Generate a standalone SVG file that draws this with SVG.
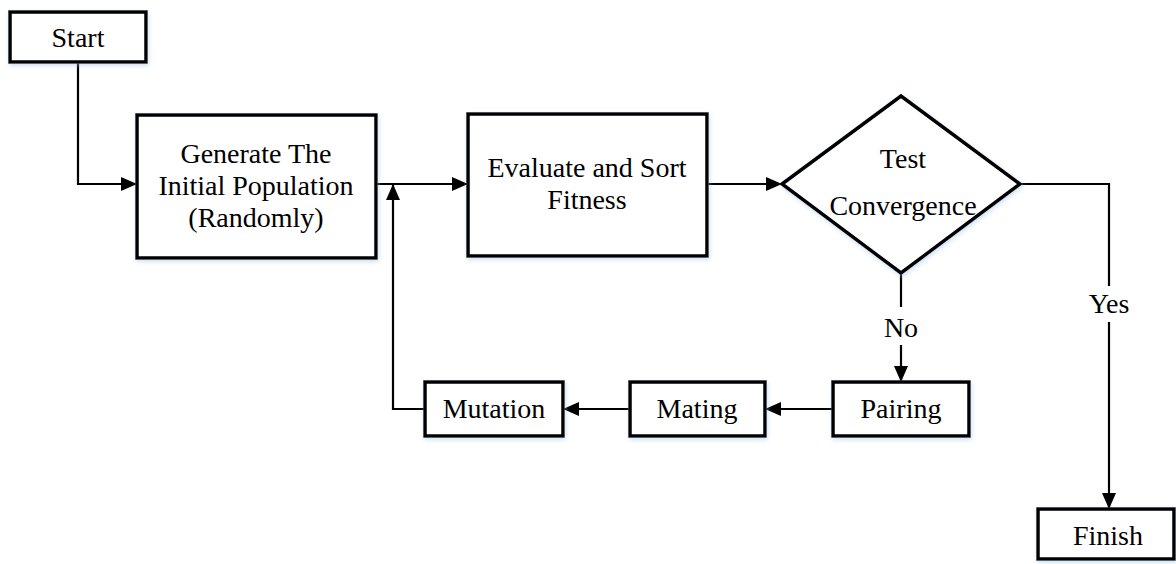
<svg xmlns="http://www.w3.org/2000/svg" width="1176" height="564" viewBox="0 0 1176 564">
<style>
.box{fill:#fff;stroke:#000;stroke-width:3.5;filter:url(#sh)}
.t{font-family:"Liberation Serif","Times New Roman",serif;font-size:28px;fill:#000;text-anchor:middle}
.c{fill:none;stroke:#000;stroke-width:2.2}
</style>
<defs>
<filter id="sh" x="-10%" y="-10%" width="120%" height="130%">
<feDropShadow dx="1" dy="2" stdDeviation="2" flood-color="#9dc3e6" flood-opacity="0.5"/>
</filter>
<marker id="ah" viewBox="0 0 16 14" refX="16" refY="7" markerWidth="16" markerHeight="14" markerUnits="userSpaceOnUse" orient="auto">
<path d="M0,0 L16,7 L0,14 Z" fill="#000"/>
</marker>
</defs>
<rect width="1176" height="564" fill="#fff"/>
<g id="connectors">
<path class="c" d="M78,62 V184 H137" marker-end="url(#ah)"/>
<path class="c" d="M376,184 H468" marker-end="url(#ah)"/>
<path class="c" d="M425,409 H393 V184" marker-end="url(#ah)"/>
<path class="c" d="M707,184 H782" marker-end="url(#ah)"/>
<path class="c" d="M1020,184 H1109 V286"/>
<path class="c" d="M1109,322 V509" marker-end="url(#ah)"/>
<path class="c" d="M901,273 V307"/>
<path class="c" d="M901,345 V382" marker-end="url(#ah)"/>
<path class="c" d="M833,409 H765" marker-end="url(#ah)"/>
<path class="c" d="M630,409 H563" marker-end="url(#ah)"/>
<text class="t" x="1109" y="313">Yes</text>
<text class="t" x="901" y="337">No</text>
</g>
<g id="start">
<rect class="box" x="10" y="12" width="136" height="50"/>
<text class="t" x="78" y="47">Start</text>
</g>
<g id="generate">
<rect class="box" x="137" y="115" width="239" height="143"/>
<text class="t" x="256" y="163">Generate The</text>
<text class="t" x="256" y="195">Initial Population</text>
<text class="t" x="256" y="227">(Randomly)</text>
</g>
<g id="evaluate">
<rect class="box" x="468" y="114" width="239" height="142"/>
<text class="t" x="587" y="177">Evaluate and Sort</text>
<text class="t" x="587" y="209">Fitness</text>
</g>
<g id="test">
<polygon class="box" points="782,184 901,96 1020,184 901,273"/>
<text class="t" x="903" y="168">Test</text>
<text class="t" x="903" y="215">Convergence</text>
</g>
<g id="pairing">
<rect class="box" x="833" y="382" width="136" height="54"/>
<text class="t" x="901" y="418">Pairing</text>
</g>
<g id="mating">
<rect class="box" x="630" y="382" width="135" height="54"/>
<text class="t" x="697" y="418">Mating</text>
</g>
<g id="mutation">
<rect class="box" x="425" y="382" width="138" height="54"/>
<text class="t" x="494" y="418">Mutation</text>
</g>
<g id="finish">
<rect class="box" x="1038" y="509" width="136" height="50"/>
<text class="t" x="1108" y="545">Finish</text>
</g>
</svg>
